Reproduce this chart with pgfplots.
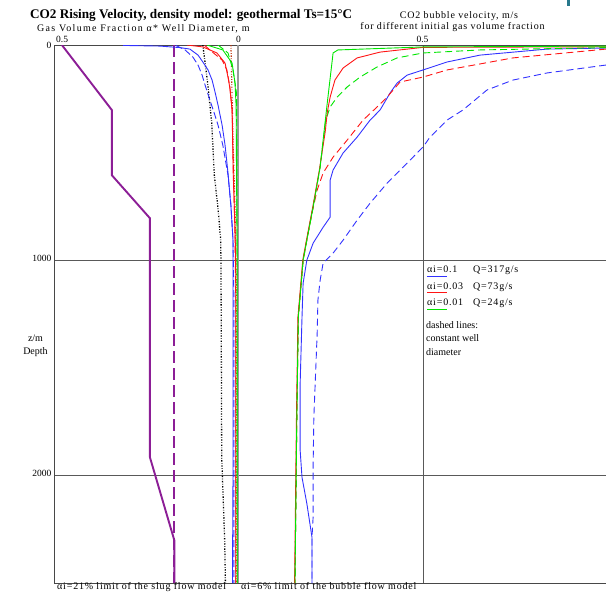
\documentclass[border=0pt]{standalone}
\usepackage{pgfplots}
\pgfplotsset{compat=1.18}
\usepackage{fontspec}
\setmainfont{Liberation Serif}
\newfontfamily\gdi[LetterSpace=8]{Liberation Serif}
\newfontfamily\gdiw[LetterSpace=13]{Liberation Serif}
\definecolor{cblue}{RGB}{50,50,255}
\definecolor{cred}{RGB}{255,20,20}
\definecolor{cgreen}{RGB}{0,230,0}
\definecolor{cpurple}{RGB}{140,30,150}
\definecolor{cbrown}{RGB}{190,60,20}
\definecolor{cteal}{RGB}{40,120,140}
\newcommand{\at}[2]{({#1pt-54pt},{583pt-#2pt})}
\begin{document}
\begin{tikzpicture}
\useasboundingbox (-54pt,-9pt) rectangle (552pt,583pt);
\begin{axis}[
  at={(0,0)}, anchor=south west,
  scale only axis, width=552pt, height=538pt,
  xmin=-0.4973, xmax=0.9946, ymin=0, ymax=2500, y dir=reverse,
  axis x line*=box, axis y line*=left,
  axis line style={draw=black!72, line width=0.9pt, -},
  xtick={0.5}, xticklabels={},
  extra x ticks={0}, extra x tick labels={},
  extra x tick style={grid style={draw=black!40, line width=1.4pt}},
  ytick={1000,2000}, yticklabels={},
  major tick length=0pt,
  xmajorgrids, ymajorgrids,
  grid style={draw=black!65, line width=0.8pt},
  every axis plot/.append style={no marks, line width=0.9pt},
]
% ---- left panel: gas volume fraction * well diameter (plotted negative) ----
\addplot[cpurple, line width=1.9pt] coordinates {(-0.476,0) (-0.341,302) (-0.341,605) (-0.238,805) (-0.238,1916) (-0.172,2302) (-0.172,2500)};
\addplot[cpurple, line width=1.9pt, dash pattern=on 12pt off 5pt] coordinates {(-0.172,0) (-0.172,2500)};
\addplot[black, line width=1.3pt, dash pattern=on 1.4pt off 1.6pt on 0.6pt off 1.6pt] coordinates {(-0.095,0) (-0.082,177) (-0.071,363) (-0.064,605) (-0.054,760) (-0.047,900) (-0.046,1000) (-0.044,1916) (-0.036,2302) (-0.034,2500)};
\addplot[cbrown, line width=1.2pt, dash pattern=on 1.4pt off 1.6pt on 0.6pt off 1.6pt] coordinates {(-0.019,0) (-0.0135,442) (-0.008,753) (-0.005,1060) (-0.005,2500)};
\addplot[cblue] coordinates {(-0.311,2) (-0.211,5) (-0.157,12) (-0.130,19) (-0.108,47) (-0.095,79) (-0.081,116) (-0.070,163) (-0.062,219) (-0.054,279) (-0.043,372) (-0.035,465) (-0.027,595) (-0.019,753) (-0.0135,907) (-0.0135,2000) (-0.015,2500)};
\addplot[cblue, dash pattern=on 7pt off 3pt] coordinates {(-0.168,2) (-0.143,23) (-0.122,56) (-0.108,93) (-0.097,140) (-0.089,186) (-0.076,256) (-0.065,312) (-0.054,372) (-0.041,465) (-0.027,605) (-0.019,744) (-0.0135,907) (-0.011,1186) (-0.011,2500)};
\addplot[cred] coordinates {(-0.138,0) (-0.095,9) (-0.057,37) (-0.035,84) (-0.027,149) (-0.022,200) (-0.016,300) (-0.013,595) (-0.008,850) (-0.006,1060) (-0.006,2500)};
\addplot[cred, dash pattern=on 7pt off 3pt] coordinates {(-0.090,2) (-0.076,23) (-0.043,70) (-0.030,116) (-0.022,195) (-0.016,300) (-0.012,600) (-0.008,900) (-0.006,1200) (-0.006,2500)};
\addplot[cgreen] coordinates {(-0.084,0) (-0.041,23) (-0.016,84) (-0.008,177) (-0.005,288) (-0.004,600) (-0.002,1000) (-0.002,2500)};
\addplot[cgreen, dash pattern=on 7pt off 3pt] coordinates {(-0.054,0) (-0.027,37) (-0.0135,116) (-0.004,223) (-0.003,500) (-0.002,2500)};
% ---- right panel: bubble velocity ----
\addplot[cblue, dash pattern=on 7pt off 4pt] coordinates {(0.995,93) (0.835,130) (0.743,163) (0.673,209) (0.608,302) (0.565,349) (0.519,428) (0.5,474) (0.457,549) (0.403,642) (0.357,735) (0.322,814) (0.284,907) (0.257,967) (0.230,1014) (0.222,1093) (0.216,1186) (0.214,1340) (0.205,1730) (0.203,1963) (0.203,2195) (0.2,2288) (0.2,2500)};
\addplot[cblue] coordinates {(0.995,14) (0.835,19) (0.654,47) (0.565,79) (0.5,116) (0.457,140) (0.43,177) (0.411,223) (0.384,302) (0.357,349) (0.322,428) (0.284,502) (0.257,581) (0.249,628) (0.249,800) (0.230,847) (0.203,921) (0.186,1000) (0.176,1107) (0.173,1265) (0.168,1572) (0.168,1884) (0.173,2009) (0.186,2130) (0.2,2288) (0.2,2500)};
\addplot[cred, dash pattern=on 7pt off 4pt] coordinates {(0.995,19) (0.743,60) (0.565,116) (0.5,149) (0.438,172) (0.403,242) (0.376,288) (0.338,349) (0.295,442) (0.257,521) (0.230,595) (0.214,674) (0.2,781) (0.186,907) (0.176,1000) (0.163,1265) (0.159,1730) (0.157,2037) (0.154,2500)};
\addplot[cgreen, dash pattern=on 7pt off 4pt] coordinates {(0.995,12) (0.654,23) (0.5,37) (0.43,60) (0.376,102) (0.33,149) (0.295,195) (0.268,242) (0.249,288) (0.237,350) (0.222,567) (0.203,753) (0.186,907) (0.176,1000) (0.163,1265) (0.159,1730) (0.157,2037) (0.154,2500)};
\addplot[cred] coordinates {(0.995,8) (0.7,10) (0.5,11) (0.384,33) (0.322,60) (0.284,107) (0.262,163) (0.249,242) (0.241,316) (0.236,400) (0.22,580) (0.202,753) (0.185,907) (0.175,1000) (0.162,1265) (0.158,1730) (0.156,2037) (0.153,2500)};
\addplot[cgreen] coordinates {(0.995,5) (0.5,9) (0.27,23) (0.257,37) (0.24,288) (0.222,567) (0.203,753) (0.186,907) (0.176,1000) (0.163,1265) (0.159,1730) (0.157,2037) (0.154,2500)};
\end{axis}
% ---- texts ----
\node[anchor=base west, inner sep=0, font=\bfseries\fontsize{13.2}{15}\selectfont] at \at{30}{18.5} {CO2 Rising Velocity, density model: geothermal Ts=15°C};
\node[anchor=base west, inner sep=0, font=\gdiw\fontsize{10}{12}\selectfont] at \at{37}{31.5} {Gas Volume Fraction α* Well Diameter, m};
\node[anchor=base, inner sep=0, font=\gdi\fontsize{10}{12}\selectfont] at \at{459}{19} {CO2 bubble velocity, m/s};
\node[anchor=base, inner sep=0, font=\gdi\fontsize{10}{12}\selectfont] at \at{452.5}{29.5} {for different initial gas volume fraction};
% tick labels
\node[anchor=base west, inner sep=0, font=\fontsize{9.5}{11}\selectfont] at \at{56}{42.7} {0.5};
\node[anchor=base, inner sep=0, font=\fontsize{9.5}{11}\selectfont] at \at{238.5}{42.7} {0};
\node[anchor=base, inner sep=0, font=\fontsize{9.5}{11}\selectfont] at \at{422.5}{42.7} {0.5};
\node[anchor=base east, inner sep=0, font=\fontsize{9.5}{11}\selectfont] at \at{51.5}{48.5} {0};
\node[anchor=base east, inner sep=0, font=\fontsize{9.5}{11}\selectfont] at \at{51.5}{262} {1000};
\node[anchor=base east, inner sep=0, font=\fontsize{9.5}{11}\selectfont] at \at{51.5}{477} {2000};
% y label
\node[anchor=base, inner sep=0, font=\fontsize{10}{12}\selectfont] at \at{35.5}{342} {z/m};
\node[anchor=base, inner sep=0, font=\fontsize{10}{12}\selectfont] at \at{35.5}{355} {Depth};
% legend
\node[anchor=base west, inner sep=0, font=\gdi\fontsize{10}{12}\selectfont] at \at{427}{273} {αi=0.1};
\node[anchor=base west, inner sep=0, font=\gdi\fontsize{10}{12}\selectfont] at \at{473}{273} {Q=317g/s};
\node[anchor=base west, inner sep=0, font=\gdi\fontsize{10}{12}\selectfont] at \at{427}{289.3} {αi=0.03};
\node[anchor=base west, inner sep=0, font=\gdi\fontsize{10}{12}\selectfont] at \at{473}{289.3} {Q=73g/s};
\node[anchor=base west, inner sep=0, font=\gdi\fontsize{10}{12}\selectfont] at \at{427}{306} {αi=0.01};
\node[anchor=base west, inner sep=0, font=\gdi\fontsize{10}{12}\selectfont] at \at{473}{306} {Q=24g/s};
\draw[cblue, line width=0.8pt] \at{427}{276.3} -- \at{447}{276.3};
\draw[cred, line width=0.8pt] \at{427}{292.8} -- \at{447}{292.8};
\draw[cgreen, line width=0.8pt] \at{427}{309.8} -- \at{447}{309.8};
\node[anchor=base west, inner sep=0, font=\fontsize{10}{12}\selectfont] at \at{426}{329} {dashed lines:};
\node[anchor=base west, inner sep=0, font=\fontsize{10}{12}\selectfont] at \at{426}{341.7} {constant well};
\node[anchor=base west, inner sep=0, font=\fontsize{10}{12}\selectfont] at \at{426}{355.5} {diameter};
% bottom notes
\node[anchor=base west, inner sep=0, font=\gdi\fontsize{10}{12}\selectfont] at \at{57}{589.5} {αi=21\% limit of the slug flow model};
\node[anchor=base west, inner sep=0, font=\gdi\fontsize{10}{12}\selectfont] at \at{241}{589.5} {αi=6\% limit of the bubble flow model};
\fill[cteal] \at{566.5}{0} rectangle \at{569.5}{6.5};
\end{tikzpicture}
\end{document}
